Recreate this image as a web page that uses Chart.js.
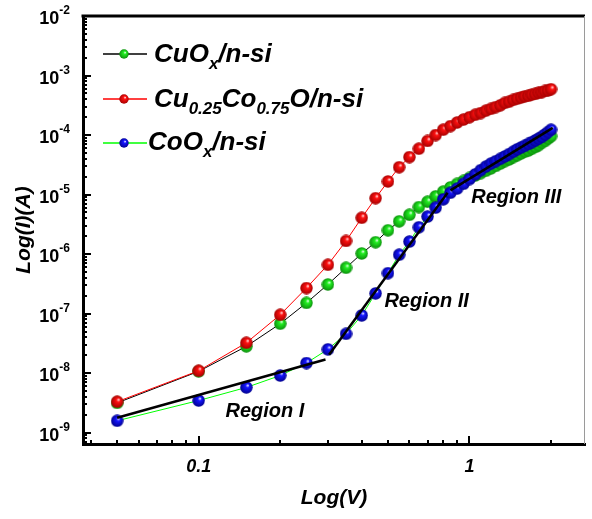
<!DOCTYPE html>
<html>
<head>
<meta charset="utf-8">
<script src="https://cdn.jsdelivr.net/npm/chart.js@4"></script>
<style>
  html, body { margin: 0; padding: 0; background: #fff; }
  #wrap { width: 592px; height: 519px; position: relative; }
</style>
</head>
<body>
<div id="wrap"><canvas id="iv-chart"></canvas></div>
<script>
// bias voltage (V)
const voltage = [0.05, 0.1, 0.15, 0.2, 0.25, 0.3, 0.35, 0.4, 0.45, 0.5,
  0.55, 0.6, 0.65, 0.7, 0.75, 0.8, 0.85, 0.9, 0.95, 1.0,
  1.05, 1.1, 1.15, 1.2, 1.25, 1.3, 1.35, 1.4, 1.45, 1.5,
  1.55, 1.6, 1.65, 1.7, 1.75, 1.8, 1.85, 1.9, 1.95, 2.0];

// log10 of current (A)
const logCuOx = [-8.50, -7.97, -7.55, -7.17, -6.82, -6.51, -6.23, -5.99, -5.80, -5.60,
  -5.45, -5.34, -5.21, -5.12, -5.03, -4.95, -4.88, -4.82, -4.77, -4.72,
  -4.68, -4.64, -4.60, -4.56, -4.52, -4.48, -4.44, -4.41, -4.37, -4.34,
  -4.31, -4.28, -4.26, -4.23, -4.20, -4.17, -4.13, -4.10, -4.06, -4.02];
const logCuCoO = [-8.48, -7.96, -7.49, -7.02, -6.57, -6.18, -5.78, -5.39, -5.06, -4.78,
  -4.54, -4.37, -4.23, -4.10, -4.00, -3.91, -3.85, -3.79, -3.74, -3.70,
  -3.66, -3.63, -3.59, -3.56, -3.53, -3.50, -3.46, -3.44, -3.41, -3.39,
  -3.37, -3.35, -3.34, -3.32, -3.31, -3.29, -3.28, -3.26, -3.25, -3.23];
const logCoOx = [-8.80, -8.46, -8.24, -8.04, -7.83, -7.60, -7.34, -7.03, -6.66, -6.32,
  -6.01, -5.79, -5.55, -5.37, -5.22, -5.08, -4.97, -4.90, -4.82, -4.74,
  -4.66, -4.59, -4.53, -4.48, -4.44, -4.40, -4.36, -4.32, -4.28, -4.24,
  -4.21, -4.18, -4.15, -4.12, -4.09, -4.06, -4.03, -3.99, -3.95, -3.91];

// straight-line fits on the CoOx curve
const fitRegion1V = [0.05, 0.294];
const fitRegion1I = [-8.75, -7.77];
const fitRegion2V = [0.303, 0.83];
const fitRegion2I = [-7.69, -4.97];
const fitRegion3V = [0.85, 2.03];
const fitRegion3I = [-4.93, -3.88];

const regionNames = ["Region I", "Region II", "Region III"];
const regionAtV = [0.1256, 0.485, 1.015];
const regionAtLogI = [-8.74, -6.89, -5.14];

const xTickValues = [0.1, 1];
const xTickLabels = ["0.1", "1"];
const yTickExps = [-9, -8, -7, -6, -5, -4, -3, -2];

const FONT = '"Liberation Sans", Arial, sans-serif';

function pts(vs, logs) {
  return vs.map((v, i) => ({ x: v, y: Math.pow(10, logs[i]) }));
}

function ball(color, dark, size) {
  const c = document.createElement("canvas");
  c.width = c.height = size;
  const g = c.getContext("2d");
  const r = size / 2;
  const grad = g.createRadialGradient(r * 1.25, r * 0.65, 0, r, r, r);
  grad.addColorStop(0, "#ffffff");
  grad.addColorStop(0.3, color);
  grad.addColorStop(1, dark);
  g.fillStyle = grad;
  g.beginPath();
  g.arc(r, r, r - 0.3, 0, Math.PI * 2);
  g.fill();
  return c;
}

const greenBall = ball("#22ee22", "#0a8a0a", 13);
const redBall = ball("#ff1111", "#a00000", 13);
const blueBall = ball("#1515ff", "#00008a", 13);
const legendBalls = [ball("#22ee22", "#0a8a0a", 10), ball("#ff1111", "#a00000", 10), ball("#1515ff", "#00008a", 10)];

const legendRows = [
  { line: "#000000", y: 54, tx: 154, base: 62, parts: [["CuO", 0], ["x", 1], ["/n-si", 0]] },
  { line: "#ff0000", y: 99, tx: 154, base: 107, parts: [["Cu", 0], ["0.25", 1], ["Co", 0], ["0.75", 1], ["O/n-si", 0]] },
  { line: "#00ff00", y: 143, tx: 148, base: 150, parts: [["CoO", 0], ["x", 1], ["/n-si", 0]] },
];

const decor = {
  id: "decor",
  afterDraw(chart) {
    const { ctx, chartArea: a, scales: { x, y } } = chart;
    ctx.save();

    // top and right frame
    ctx.strokeStyle = "#000";
    ctx.lineWidth = 3;
    ctx.beginPath();
    ctx.moveTo(a.left - 1.5, a.top);
    ctx.lineTo(a.right, a.top);
    ctx.stroke();
    ctx.strokeStyle = "#9a9a9a";
    ctx.lineWidth = 1;
    ctx.beginPath();
    ctx.moveTo(a.right - 0.5, a.top);
    ctx.lineTo(a.right - 0.5, a.bottom);
    ctx.stroke();

    // inward ticks
    ctx.strokeStyle = "#000";
    ctx.lineWidth = 2;
    [0.01, 0.1, 1].forEach(d => {
      for (let k = 1; k <= 9; k++) {
        const v = k * d;
        if (v < x.min || v > x.max) continue;
        const px = Math.round(x.getPixelForValue(v));
        const len = k === 1 ? 8 : 4;
        ctx.beginPath();
        ctx.moveTo(px, a.bottom);
        ctx.lineTo(px, a.bottom - len);
        ctx.stroke();
      }
    });
    for (let e = -10; e <= -2; e++) {
      for (let k = 1; k <= 9; k++) {
        const v = k * Math.pow(10, e);
        if (v < y.min || v > y.max * 1.0001) continue;
        const py = Math.round(y.getPixelForValue(v));
        const len = k === 1 ? 8 : 4;
        ctx.beginPath();
        ctx.moveTo(a.left, py);
        ctx.lineTo(a.left + len, py);
        ctx.stroke();
      }
    }

    // y tick labels 10^n
    ctx.fillStyle = "#000";
    ctx.textBaseline = "alphabetic";
    ctx.textAlign = "left";
    yTickExps.forEach(e => {
      const py = y.getPixelForValue(Math.pow(10, e));
      const ex = String(e);
      ctx.font = "bold 12px " + FONT;
      const ew = ctx.measureText(ex).width;
      ctx.fillText(ex, 70 - ew, py - 2);
      ctx.font = "bold 18px " + FONT;
      const bw = ctx.measureText("10").width;
      ctx.fillText("10", 70 - ew - bw, py + 8);
    });

    // region labels
    ctx.font = "italic bold 20px " + FONT;
    regionNames.forEach((t, i) => {
      ctx.fillText(t, x.getPixelForValue(regionAtV[i]), y.getPixelForValue(Math.pow(10, regionAtLogI[i])));
    });

    // legend
    legendRows.forEach((row, i) => {
      ctx.strokeStyle = row.line;
      ctx.lineWidth = 1.5;
      ctx.beginPath();
      ctx.moveTo(103, row.y);
      ctx.lineTo(147, row.y);
      ctx.stroke();
      const b = legendBalls[i];
      ctx.drawImage(b, 124 - b.width / 2, row.y - b.height / 2);
      let tx = row.tx;
      row.parts.forEach(([t, sub]) => {
        ctx.font = sub ? "italic bold 17px " + FONT : "italic bold 26px " + FONT;
        ctx.fillText(t, tx, sub ? row.base + 7 : row.base);
        tx += ctx.measureText(t).width;
      });
    });

    ctx.restore();
  },
};

function fitLine(vs, logs) {
  return {
    data: pts(vs, logs),
    borderColor: "#000",
    borderWidth: 2.5,
    pointRadius: 0,
    fill: false,
  };
}

new Chart(document.getElementById("iv-chart"), {
  type: "line",
  data: {
    datasets: [
      fitLine(fitRegion1V, fitRegion1I),
      fitLine(fitRegion2V, fitRegion2I),
      fitLine(fitRegion3V, fitRegion3I),
      {
        label: "CoOx/n-si",
        data: pts(voltage, logCoOx),
        borderColor: "#00ff00",
        borderWidth: 1,
        pointStyle: blueBall,
        pointRadius: 6,
      },
      {
        label: "Cu0.25Co0.75O/n-si",
        data: pts(voltage, logCuCoO),
        borderColor: "#ff0000",
        borderWidth: 1,
        pointStyle: redBall,
        pointRadius: 6,
      },
      {
        label: "CuOx/n-si",
        data: pts(voltage, logCuOx),
        borderColor: "#000000",
        borderWidth: 1,
        pointStyle: greenBall,
        pointRadius: 6,
      },
    ],
  },
  options: {
    responsive: true,
    maintainAspectRatio: false,
    animation: false,
    devicePixelRatio: 1,
    layout: { padding: { top: 16, right: 1, left: 0, bottom: 0 } },
    plugins: { legend: { display: false }, tooltip: { enabled: false } },
    scales: {
      x: {
        type: "logarithmic",
        min: 0.0374,
        max: 2.67,
        afterFit: s => { s.height = 75; },
        afterBuildTicks: s => { s.ticks = xTickValues.map(v => ({ value: v })); },
        grid: { display: false, drawTicks: false },
        border: { display: true, color: "#000", width: 3 },
        ticks: {
          padding: 12,
          color: "#000",
          font: { family: FONT, size: 18, style: "italic", weight: "bold" },
          callback: v => xTickLabels[xTickValues.indexOf(v)] ?? "",
        },
        title: {
          display: true,
          text: "Log(V)",
          color: "#000",
          padding: { top: 0, bottom: 8 },
          font: { family: FONT, size: 21, style: "italic", weight: "bold" },
        },
      },
      y: {
        type: "logarithmic",
        min: 6.45e-10,
        max: 1e-2,
        afterFit: s => { s.width = 83; },
        grid: { display: false, drawTicks: false },
        border: { display: true, color: "#000", width: 3 },
        ticks: { display: false },
        title: {
          display: true,
          text: "Log(I)(A)",
          color: "#000",
          padding: { top: 12, bottom: 0 },
          font: { family: FONT, size: 21, style: "italic", weight: "bold" },
        },
      },
    },
  },
  plugins: [decor],
});
</script>
</body>
</html>
